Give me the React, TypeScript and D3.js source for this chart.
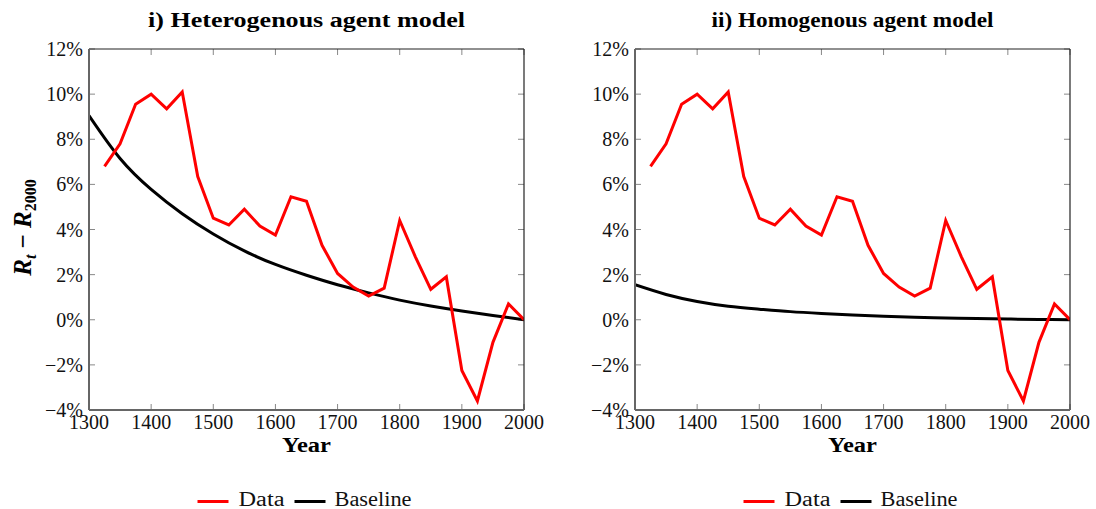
import React from "react";
import * as d3 from "d3";

const dataYears = [1325, 1350, 1375, 1400, 1425, 1450, 1475, 1500, 1525, 1550, 1575, 1600, 1625, 1650, 1675, 1700, 1725, 1750, 1775, 1800, 1825, 1850, 1875, 1900, 1925, 1950, 1975, 2000];
const dataValues = [6.8, 7.8, 9.55, 10.0, 9.35, 10.1, 6.35, 4.5, 4.2, 4.9, 4.15, 3.75, 5.45, 5.25, 3.3, 2.05, 1.45, 1.05, 1.4, 4.4, 2.8, 1.35, 1.9, -2.25, -3.6, -1.0, 0.7, 0.0];

const baselineYears = [1300, 1350, 1400, 1450, 1500, 1550, 1600, 1650, 1700, 1750, 1800, 1850, 1900, 1950, 2000];
const heteroBaseline = [9.05, 7.15, 5.78, 4.7, 3.8, 3.05, 2.45, 1.97, 1.55, 1.19, 0.87, 0.61, 0.39, 0.19, 0.0];
const homoBaseline = [1.55, 1.12, 0.81, 0.6, 0.47, 0.36, 0.28, 0.21, 0.15, 0.11, 0.08, 0.05, 0.03, 0.015, 0.0];

const xTicks = [1300, 1400, 1500, 1600, 1700, 1800, 1900, 2000];
const yTicks = [-4, -2, 0, 2, 4, 6, 8, 10, 12];

const panelTitles = ["i) Heterogenous agent model", "ii) Homogenous agent model"];
const titleWidths = [317, 282];
const legendLabels = ["Data", "Baseline"];

const FONT = "'Liberation Serif', 'DejaVu Serif', serif";

function Panel({ x0, title, titleW, baseline, showYLabel }: { x0: number; title: string; titleW: number; baseline: number[]; showYLabel: boolean }) {
  const width = 435;
  const top = 49;
  const bottom = 410;
  const x = d3.scaleLinear().domain([1300, 2000]).range([x0, x0 + width]);
  const y = d3.scaleLinear().domain([-4, 12]).range([bottom, top]);
  const dataLine = d3.line<number>().x((_, i) => x(dataYears[i])).y((d) => y(d));
  const baseLine = d3
    .line<number>()
    .x((_, i) => x(baselineYears[i]))
    .y((d) => y(d))
    .curve(d3.curveNatural);
  const cx = x0 + width / 2;
  const fmt = (v: number) => (v < 0 ? "\u2212" + Math.abs(v) : String(v)) + "%";
  const tickLen = 6;
  const legY = 501.5;
  const legX = cx - 109;
  return (
    <g>
      <text x={cx} y={27} textAnchor="middle" fontFamily={FONT} fontWeight="bold" fontSize={20} textLength={titleW} lengthAdjust="spacingAndGlyphs">
        {title}
      </text>
      <defs>
        <clipPath id={"clip" + x0}>
          <rect x={x0} y={top} width={width} height={bottom - top} />
        </clipPath>
      </defs>
      {xTicks.map((t) => (
        <g key={"xt" + t}>
          <line x1={x(t)} x2={x(t)} y1={bottom} y2={bottom - tickLen} stroke="#888" strokeWidth={1} />
          <line x1={x(t)} x2={x(t)} y1={top} y2={top + tickLen} stroke="#888" strokeWidth={1} />
          <text x={x(t)} y={429} textAnchor="middle" fontFamily={FONT} fontSize={20} fill="#111">
            {t}
          </text>
        </g>
      ))}
      {yTicks.map((t) => (
        <g key={"yt" + t}>
          <line x1={x0} x2={x0 + tickLen} y1={y(t)} y2={y(t)} stroke="#888" strokeWidth={1} />
          <line x1={x0 + width} x2={x0 + width - tickLen} y1={y(t)} y2={y(t)} stroke="#888" strokeWidth={1} />
          <text x={x0 - 6} y={y(t) + 7} textAnchor="end" fontFamily={FONT} fontSize={20} fill="#111">
            {fmt(t)}
          </text>
        </g>
      ))}
      <g clipPath={`url(#clip${x0})`}>
        <path d={baseLine(baseline) || ""} fill="none" stroke="#000" strokeWidth={3} />
        <path d={dataLine(dataValues) || ""} fill="none" stroke="#ff0000" strokeWidth={3} strokeLinejoin="miter" />
      </g>
      <line x1={x0} x2={x0 + width} y1={top} y2={top} stroke="#222" strokeWidth={1.2} />
      <line x1={x0 + width} x2={x0 + width} y1={top} y2={bottom} stroke="#222" strokeWidth={1.2} />
      <line x1={x0} x2={x0} y1={top} y2={bottom} stroke="#666" strokeWidth={2} />
      <line x1={x0} x2={x0 + width} y1={bottom} y2={bottom} stroke="#666" strokeWidth={2} />
      <text x={cx} y={452} textAnchor="middle" fontFamily={FONT} fontWeight="bold" fontSize={20} textLength={49} lengthAdjust="spacingAndGlyphs">
        Year
      </text>
      {showYLabel && (
        <text
          transform={`translate(31, ${(top + bottom) / 2 - 2}) rotate(-90)`}
          textAnchor="middle"
          fontFamily={FONT}
          fontWeight="bold"
          fontSize={25}
        >
          <tspan fontStyle="italic">R</tspan>
          <tspan fontStyle="italic" fontSize={16} dy={5}>t</tspan>
          <tspan dy={-5}> {"\u2212"} </tspan>
          <tspan fontStyle="italic">R</tspan>
          <tspan fontSize={16} dy={5}>2000</tspan>
        </text>
      )}
      <line x1={legX} x2={legX + 31} y1={legY} y2={legY} stroke="#ff0000" strokeWidth={3} />
      <text x={legX + 41} y={506} fontFamily={FONT} fontSize={20} fill="#111" textLength={46} lengthAdjust="spacingAndGlyphs">
        {legendLabels[0]}
      </text>
      <line x1={legX + 97} x2={legX + 128} y1={legY} y2={legY} stroke="#000" strokeWidth={3} />
      <text x={legX + 137} y={506} fontFamily={FONT} fontSize={20} fill="#111" textLength={77} lengthAdjust="spacingAndGlyphs">
        {legendLabels[1]}
      </text>
    </g>
  );
}

export default function App() {
  return (
    <svg width={1096} height={509} style={{ position: "absolute", left: 0, top: 0, background: "#fff" }}>
      <rect width={1096} height={509} fill="#fff" />
      <Panel x0={89} title={panelTitles[0]} titleW={titleWidths[0]} baseline={heteroBaseline} showYLabel={true} />
      <Panel x0={635} title={panelTitles[1]} titleW={titleWidths[1]} baseline={homoBaseline} showYLabel={false} />
    </svg>
  );
}
